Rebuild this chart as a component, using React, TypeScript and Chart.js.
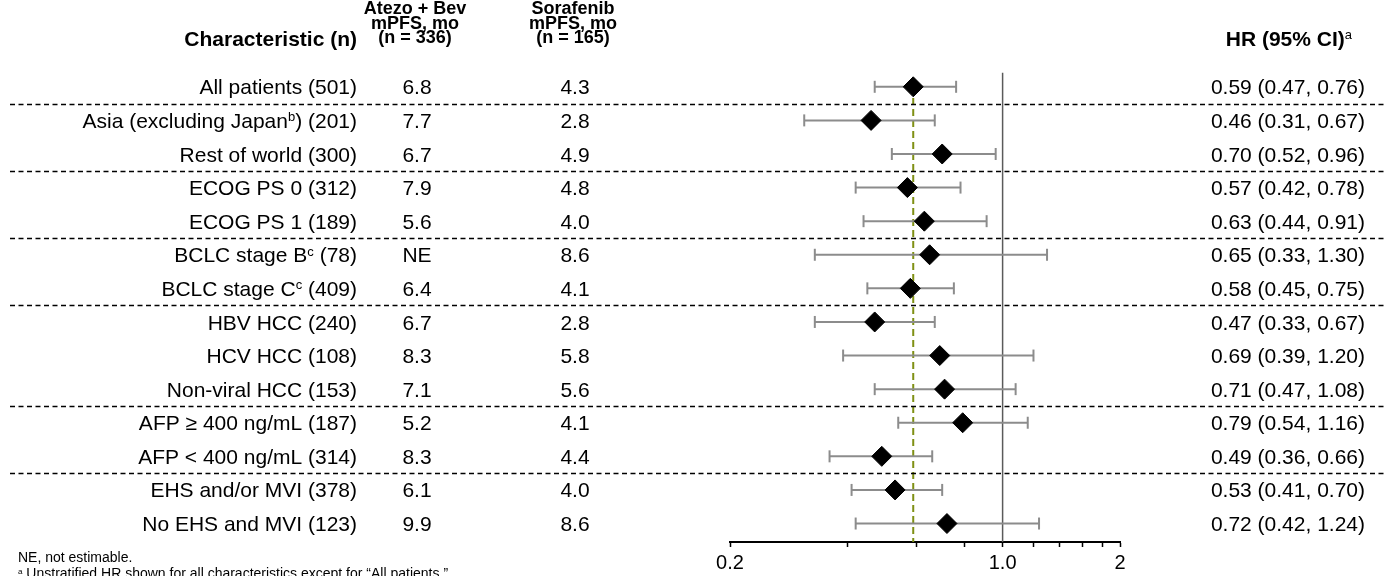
import React, { useEffect, useRef } from 'react';
import { Chart, registerables } from 'chart.js';

Chart.register(...registerables);

const characteristics = [
  'All patients (501)',
  'Asia (excluding Japan^b) (201)',
  'Rest of world (300)',
  'ECOG PS 0 (312)',
  'ECOG PS 1 (189)',
  'BCLC stage B^c (78)',
  'BCLC stage C^c (409)',
  'HBV HCC (240)',
  'HCV HCC (108)',
  'Non-viral HCC (153)',
  'AFP ≥ 400 ng/mL (187)',
  'AFP < 400 ng/mL (314)',
  'EHS and/or MVI (378)',
  'No EHS and MVI (123)',
];
const atezoPFS = ['6.8', '7.7', '6.7', '7.9', '5.6', 'NE', '6.4', '6.7', '8.3', '7.1', '5.2', '8.3', '6.1', '9.9'];
const sorafenibPFS = ['4.3', '2.8', '4.9', '4.8', '4.0', '8.6', '4.1', '2.8', '5.8', '5.6', '4.1', '4.4', '4.0', '8.6'];
const hrValues = [0.59, 0.46, 0.7, 0.57, 0.63, 0.65, 0.58, 0.47, 0.69, 0.71, 0.79, 0.49, 0.53, 0.72];
const ciLow = [0.47, 0.31, 0.52, 0.42, 0.44, 0.33, 0.45, 0.33, 0.39, 0.47, 0.54, 0.36, 0.41, 0.42];
const ciHigh = [0.76, 0.67, 0.96, 0.78, 0.91, 1.3, 0.75, 0.67, 1.2, 1.08, 1.16, 0.66, 0.7, 1.24];
const groupBreaksAfter = [0, 2, 4, 6, 9, 11];
const xTickValues = [0.2, 0.4, 0.6, 0.8, 1.0, 1.2, 1.4, 1.6, 1.8, 2];
const xTickLabels = ['0.2', '', '', '', '1.0', '', '', '', '', '2'];
const referenceHR = 1.0;
const overallHR = 0.59;
const headerAtezo = ['Atezo + Bev', 'mPFS, mo', '(n = 336)'];
const headerSorafenib = ['Sorafenib', 'mPFS, mo', '(n = 165)'];
const headerCharacteristic = 'Characteristic (n)';
const headerHR = 'HR (95% CI)^a';
const footnotes = ['NE, not estimable.', '^a Unstratified HR shown for all characteristics except for “All patients.”'];

const FONT = 'Arial, "Liberation Sans", Helvetica, sans-serif';
const Y_MIN = -0.5;
const Y_MAX = 13.55;

type Part = { t: string; sup: boolean };
function parseRich(s: string): Part[] {
  const parts: Part[] = [];
  let buf = '';
  for (let i = 0; i < s.length; i++) {
    if (s[i] === '^' && i + 1 < s.length) {
      if (buf) parts.push({ t: buf, sup: false });
      buf = '';
      parts.push({ t: s[i + 1], sup: true });
      i++;
    } else buf += s[i];
  }
  if (buf) parts.push({ t: buf, sup: false });
  return parts;
}

function drawRich(
  ctx: CanvasRenderingContext2D,
  s: string,
  x: number,
  y: number,
  align: 'left' | 'right' | 'center',
  size: number,
  bold: boolean
) {
  const parts = parseRich(s);
  const w = bold ? 'bold ' : '';
  const mainFont = `${w}${size}px ${FONT}`;
  const supFont = `${Math.round(size * 0.6)}px ${FONT}`;
  let total = 0;
  const widths = parts.map((p) => {
    ctx.font = p.sup ? supFont : mainFont;
    const m = ctx.measureText(p.t).width;
    total += m;
    return m;
  });
  let cx = align === 'left' ? x : align === 'right' ? x - total : x - total / 2;
  ctx.textAlign = 'left';
  ctx.textBaseline = 'alphabetic';
  const baseline = y + size * 0.36;
  parts.forEach((p, i) => {
    ctx.font = p.sup ? supFont : mainFont;
    ctx.fillText(p.t, cx, p.sup ? baseline - size * 0.32 : baseline);
    cx += widths[i];
  });
}

const tablePlugin = {
  id: 'forestTable',
  afterDraw(chart: any) {
    const ctx: CanvasRenderingContext2D = chart.ctx;
    const ys = chart.scales.y;
    ctx.save();
    ctx.fillStyle = '#000';

    // dashed separators
    ctx.strokeStyle = '#000';
    ctx.lineWidth = 1.3;
    ctx.setLineDash([5, 3.5]);
    groupBreaksAfter.forEach((r) => {
      const py = Math.round(ys.getPixelForValue(r + 0.5)) + 0.5;
      ctx.beginPath();
      ctx.moveTo(10, py);
      ctx.lineTo(1386, py);
      ctx.stroke();
    });
    ctx.setLineDash([]);

    // headers
    drawRich(ctx, headerCharacteristic, 357, 38, 'right', 21, true);
    headerAtezo.forEach((t, i) => drawRich(ctx, t, 415, 8 + i * 14.5, 'center', 18, true));
    headerSorafenib.forEach((t, i) => drawRich(ctx, t, 573, 8 + i * 14.5, 'center', 18, true));
    drawRich(ctx, headerHR, 1352, 38, 'right', 21, true);

    // rows
    characteristics.forEach((c, i) => {
      const py = ys.getPixelForValue(i);
      drawRich(ctx, c, 357, py, 'right', 21, false);
      drawRich(ctx, atezoPFS[i], 417, py, 'center', 21, false);
      drawRich(ctx, sorafenibPFS[i], 575, py, 'center', 21, false);
      const hrText = `${hrValues[i].toFixed(2)} (${ciLow[i].toFixed(2)}, ${ciHigh[i].toFixed(2)})`;
      drawRich(ctx, hrText, 1365, py, 'right', 21, false);
    });

    // footnotes
    drawRich(ctx, footnotes[0], 18, 557, 'left', 14, false);
    drawRich(ctx, footnotes[1], 18, 573, 'left', 14, false);
    ctx.restore();
  },
};

export default function App() {
  const ref = useRef<HTMLCanvasElement | null>(null);
  useEffect(() => {
    document.body.style.margin = '0';
    const canvas = ref.current;
    if (!canvas) return;

    const diamondData = hrValues.map((v, i) => ({ x: v, y: i }));
    const ciDatasets = hrValues.map((_, i) => ({
      type: 'line' as const,
      data: [
        { x: ciLow[i], y: i },
        { x: ciHigh[i], y: i },
      ],
      borderColor: '#8c8c8c',
      borderWidth: 2,
      pointStyle: 'line' as const,
      rotation: 90,
      pointRadius: 6,
      pointBorderWidth: 2,
      pointBorderColor: '#8c8c8c',
      pointBackgroundColor: '#8c8c8c',
      clip: false as const,
    }));

    const chart = new Chart(canvas, {
      type: 'scatter',
      data: {
        datasets: [
          {
            data: diamondData,
            pointStyle: 'rectRot',
            pointRadius: 10,
            backgroundColor: '#000',
            borderColor: '#000',
            borderWidth: 1,
            clip: false,
          } as any,
          ...ciDatasets,
          {
            type: 'line',
            data: [
              { x: overallHR, y: 0.33 },
              { x: overallHR, y: Y_MAX },
            ],
            borderColor: '#7f9014',
            borderWidth: 2,
            borderDash: [7, 4],
            pointRadius: 0,
          },
          {
            type: 'line',
            data: [
              { x: referenceHR, y: -0.42 },
              { x: referenceHR, y: Y_MAX },
            ],
            borderColor: '#5a5a5a',
            borderWidth: 1.5,
            pointRadius: 0,
          },
        ],
      },
      options: {
        responsive: false,
        animation: false,
        devicePixelRatio: 1,
        layout: { padding: { left: 730, right: 266, top: 70, bottom: 0 } },
        plugins: { legend: { display: false }, tooltip: { enabled: false } },
        scales: {
          x: {
            type: 'logarithmic',
            min: 0.2,
            max: 2,
            afterBuildTicks: (scale: any) => {
              scale.ticks = xTickValues.map((v) => ({ value: v }));
            },
            afterFit: (scale: any) => {
              scale.height = 34;
            },
            ticks: {
              autoSkip: false,
              maxRotation: 0,
              color: '#000',
              padding: 4,
              font: { family: FONT, size: 20 },
              callback: (value: any) => {
                const idx = xTickValues.findIndex((v) => Math.abs(v - Number(value)) < 1e-6);
                return idx >= 0 ? xTickLabels[idx] : '';
              },
            },
            grid: {
              drawOnChartArea: false,
              drawTicks: true,
              tickLength: 5,
              tickColor: '#000',
              tickWidth: 1.5,
            },
            border: { display: true, color: '#000', width: 2 },
          },
          y: {
            type: 'linear',
            reverse: true,
            min: Y_MIN,
            max: Y_MAX,
            display: false,
          },
        },
      },
      plugins: [tablePlugin],
    } as any);
    return () => chart.destroy();
  }, []);

  return (
    <div style={{ position: 'fixed', left: 0, top: 0, width: 1386, height: 576, background: '#fff' }}>
      <canvas ref={ref} width={1386} height={576} style={{ width: 1386, height: 576 }} />
    </div>
  );
}
